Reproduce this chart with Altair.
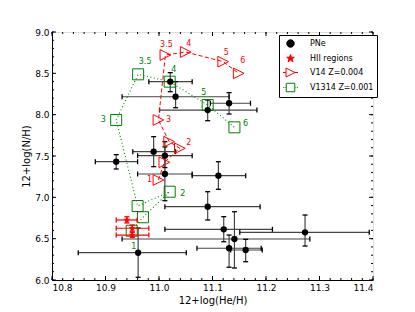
import altair as alt
import pandas as pd

# ---------------- data ----------------
# Planetary nebulae (centre, error-bar ends)
pne_x   = [11.021, 11.031, 11.131, 11.091, 10.990, 11.011, 11.011, 11.111, 10.920, 11.091, 11.121, 11.141, 11.131, 11.162, 11.273, 10.961]
pne_y   = [8.399, 8.217, 8.138, 8.056, 7.552, 7.504, 7.282, 7.262, 7.431, 6.887, 6.613, 6.496, 6.384, 6.363, 6.577, 6.330]
pne_xlo = [10.981, 10.931, 11.096, 11.001, 10.951, 10.960, 10.960, 11.062, 10.881, 11.011, 11.011, 10.931, 11.071, 11.134, 11.151, 10.849]
pne_xhi = [11.062, 11.131, 11.171, 11.183, 11.031, 11.062, 11.062, 11.162, 10.960, 11.189, 11.212, 11.282, 11.191, 11.193, 11.393, 11.051]
pne_ylo = [8.278, 8.084, 8.008, 7.927, 7.371, 7.360, 6.959, 7.097, 7.343, 6.726, 6.463, 6.145, 6.154, 6.221, 6.411, 6.033]
pne_yhi = [8.508, 8.399, 8.266, 8.177, 7.734, 7.673, 7.610, 7.431, 7.516, 7.068, 6.766, 6.826, 6.544, 6.492, 6.786, 6.629]

# HII regions
hii_x   = [10.940, 10.950, 10.950]
hii_y   = [6.726, 6.626, 6.544]
hii_xlo = [10.920, 10.920, 10.920]
hii_xhi = [10.959, 10.981, 10.981]
hii_ylo = [6.690, 6.590, 6.515]
hii_yhi = [6.765, 6.665, 6.575]

# Models (initial mass sequence)
v14_mass = ["1", "1.5", "2", "2.5", "3", "3.5", "4", "5", "6"]
v14_x    = [10.999, 11.010, 11.039, 11.019, 10.999, 11.012, 11.050, 11.120, 11.149]
v14_y    = [7.210, 7.424, 7.593, 7.673, 7.936, 8.722, 8.758, 8.641, 8.500]

v1314_mass = ["1", "1.5", "2", "2.5", "3", "3.5", "4", "5", "6"]
v1314_x    = [10.949, 10.970, 11.020, 10.960, 10.920, 10.961, 11.020, 11.091, 11.141]
v1314_y    = [6.596, 6.759, 7.068, 6.895, 7.936, 8.488, 8.399, 8.117, 7.847]

labelled_masses = ["1", "2", "3", "3.5", "4", "5", "6"]

legend_names = ["PNe", "HII regions", "V14 Z=0.004", "V1314 Z=0.001"]

x_major = [10.8, 10.9, 11.0, 11.1, 11.2, 11.3, 11.4]
y_major = [6.0, 6.5, 7.0, 7.5, 8.0, 8.5, 9.0]
x_minor = [round(10.8 + 0.02 * i, 2) for i in range(31)]
y_minor = [round(6.0 + 0.1 * i, 1) for i in range(31)]

# ---------------- styling ----------------
W, H = 321, 248
FONT = "DejaVu Sans"
RED = "#ff0000"
GREEN = "#008000"

# label offsets in pixels (annotation placement)
v14_off = {"1": (-9, 0), "2": (9, -5), "3": (10, 0), "3.5": (1, -10), "4": (3, -8), "5": (3, -9), "6": (4, -12)}
v1314_off = {"1": (2, 16), "2": (13, 2), "3": (-13, 0), "3.5": (7, -12), "4": (4, -12), "5": (-4, -12), "6": (11, -3)}

TRI = "M-1,-1L1,0L-1,1Z"
STAR = ("M0,-0.8L0.188,-0.259L0.761,-0.247L0.304,0.099L0.470,0.647L0,0.32"
        "L-0.470,0.647L-0.304,0.099L-0.761,-0.247L-0.188,-0.259Z")
LEG_CIRC = "M0.75,0A0.75,0.75,0,1,1,-0.75,0A0.75,0.75,0,1,1,0.75,0Z"
LEG_STAR = STAR
LEG_TRI = "M-0.9,-0.9L0.9,0L-0.9,0.9Z M-1.5,0L-0.9,0 M0.9,0L1.5,0"
LEG_SQ = ("M-0.85,-0.85H0.85V0.85H-0.85Z M-1.5,0L-1.35,0 M-1.15,0L-1.0,0 "
          "M1.0,0L1.15,0 M1.35,0L1.5,0")

xs = alt.Scale(domain=[10.8, 11.4], nice=False, zero=False)
ys = alt.Scale(domain=[6.0, 9.0], nice=False, zero=False)

xaxis = alt.Axis(title="12+log(He/H)", values=x_major, format=".1f", ticks=False, grid=False,
                 labelPadding=3, titlePadding=3, labelFontSize=9, titleFontSize=10,
                 titleFontWeight="normal", labelColor="black", titleColor="black",
                 domainColor="black", labelFont=FONT, titleFont=FONT)
yaxis = alt.Axis(title="12+log(N/H)", values=y_major, format=".1f", ticks=False, grid=False,
                 labelPadding=3, titlePadding=3, labelFontSize=9, titleFontSize=10,
                 titleFontWeight="normal", labelColor="black", titleColor="black",
                 domainColor="black", labelFont=FONT, titleFont=FONT)


def ex(f):
    return alt.X(f, type="quantitative", scale=xs, axis=xaxis)


def ey(f):
    return alt.Y(f, type="quantitative", scale=ys, axis=yaxis)


# ---------------- tables ----------------
pne = pd.DataFrame(dict(x=pne_x, y=pne_y, xlo=pne_xlo, xhi=pne_xhi, ylo=pne_ylo, yhi=pne_yhi))
hii = pd.DataFrame(dict(x=hii_x, y=hii_y, xlo=hii_xlo, xhi=hii_xhi, ylo=hii_ylo, yhi=hii_yhi))
v14 = pd.DataFrame(dict(x=v14_x, y=v14_y, m=v14_mass, o=list(range(len(v14_x)))))
v1314 = pd.DataFrame(dict(x=v1314_x, y=v1314_y, m=v1314_mass, o=list(range(len(v1314_x)))))

layers = []

# inward ticks on all four sides
for vals, ln in ((x_minor, 2), (x_major, 4)):
    d = alt.Chart(pd.DataFrame({"v": vals}))
    layers.append(d.mark_rule(color="black", strokeWidth=1).encode(x=ex("v"), y=alt.value(H), y2=alt.value(H - ln)))
    layers.append(d.mark_rule(color="black", strokeWidth=1).encode(x=ex("v"), y=alt.value(0), y2=alt.value(ln)))
for vals, ln in ((y_minor, 2), (y_major, 4)):
    d = alt.Chart(pd.DataFrame({"v": vals}))
    layers.append(d.mark_rule(color="black", strokeWidth=1).encode(y=ey("v"), x=alt.value(0), x2=alt.value(ln)))
    layers.append(d.mark_rule(color="black", strokeWidth=1).encode(y=ey("v"), x=alt.value(W), x2=alt.value(W - ln)))


def errorbars(df, line_color, cap_color):
    c = alt.Chart(df)
    out = [
        c.mark_rule(color=line_color, strokeWidth=1.2).encode(x=ex("xlo"), x2="xhi", y=ey("y")),
        c.mark_rule(color=line_color, strokeWidth=1.2).encode(x=ex("x"), y=ey("ylo"), y2="yhi"),
    ]
    for f in ("xlo", "xhi"):
        out.append(c.mark_tick(orient="vertical", size=5, thickness=1.3, color=cap_color, opacity=1)
                   .encode(x=ex(f), y=ey("y")))
    for f in ("ylo", "yhi"):
        out.append(c.mark_tick(orient="horizontal", size=5, thickness=1.3, color=cap_color, opacity=1)
                   .encode(x=ex("x"), y=ey(f)))
    return out


layers += errorbars(pne, "#444444", "black")

# model tracks
layers.append(alt.Chart(v14).mark_line(color=RED, strokeDash=[4, 2.5], strokeWidth=1)
              .encode(x=ex("x"), y=ey("y"), order="o:Q"))
layers.append(alt.Chart(v1314).mark_line(color=GREEN, strokeDash=[1, 2.5], strokeWidth=1.1)
              .encode(x=ex("x"), y=ey("y"), order="o:Q"))
layers.append(alt.Chart(v14).mark_point(shape=TRI, size=115, filled=False, color=RED, strokeWidth=1, opacity=1)
              .encode(x=ex("x"), y=ey("y")))
layers.append(alt.Chart(v1314).mark_point(shape="square", size=121, filled=False, color=GREEN, strokeWidth=1, opacity=1)
              .encode(x=ex("x"), y=ey("y")))

# PNe points
layers.append(alt.Chart(pne).mark_circle(size=40, color="black", opacity=1).encode(x=ex("x"), y=ey("y")))

# HII regions
layers += errorbars(hii, RED, RED)
layers.append(alt.Chart(hii).mark_point(shape=STAR, size=90, filled=True, color=RED, opacity=1)
              .encode(x=ex("x"), y=ey("y")))

# mass labels
for df, offs, col in ((v14, v14_off, RED), (v1314, v1314_off, GREEN)):
    for m in labelled_masses:
        row = df[df["m"] == m]
        dx, dy = offs[m]
        layers.append(alt.Chart(row).mark_text(dx=dx, dy=dy, color=col, fontSize=8, font=FONT,
                                               align="center", baseline="middle")
                      .encode(x=ex("x"), y=ey("y"), text="m:N"))

# legend (built from explicit scale domains; draws no marks of its own)
leg_df = pd.DataFrame({"series": legend_names, "x": [11.0] * 4, "y": [7.0] * 4})
leg = alt.Legend(title=None, orient="none", legendX=227, legendY=3, padding=3,
                 symbolOffset=3, labelOffset=14, rowPadding=2, symbolSize=100, symbolStrokeWidth=1,
                 labelFontSize=8, labelFont=FONT, labelColor="black",
                 strokeColor="black", fillColor="white", cornerRadius=0)
layers.append(
    alt.Chart(leg_df).transform_filter("false").mark_point(opacity=1, strokeWidth=1, size=100)
    .encode(
        x=ex("x"), y=ey("y"),
        shape=alt.Shape("series:N", scale=alt.Scale(domain=legend_names, range=[LEG_CIRC, LEG_STAR, LEG_TRI, LEG_SQ]), legend=leg),
        stroke=alt.Stroke("series:N", scale=alt.Scale(domain=legend_names, range=["black", RED, RED, GREEN]), legend=leg),
        fill=alt.Fill("series:N", scale=alt.Scale(domain=legend_names, range=["black", RED, "transparent", "transparent"]), legend=leg),
    )
)

chart = (
    alt.layer(*layers)
    .properties(width=W, height=H, autosize="none",
                padding={"left": 44, "top": 24, "right": 34, "bottom": 30})
    .configure_view(stroke="black", strokeWidth=1)
    .configure(font=FONT)
)

chart.save("out.html", embed_options={"renderer": "svg", "actions": False})
